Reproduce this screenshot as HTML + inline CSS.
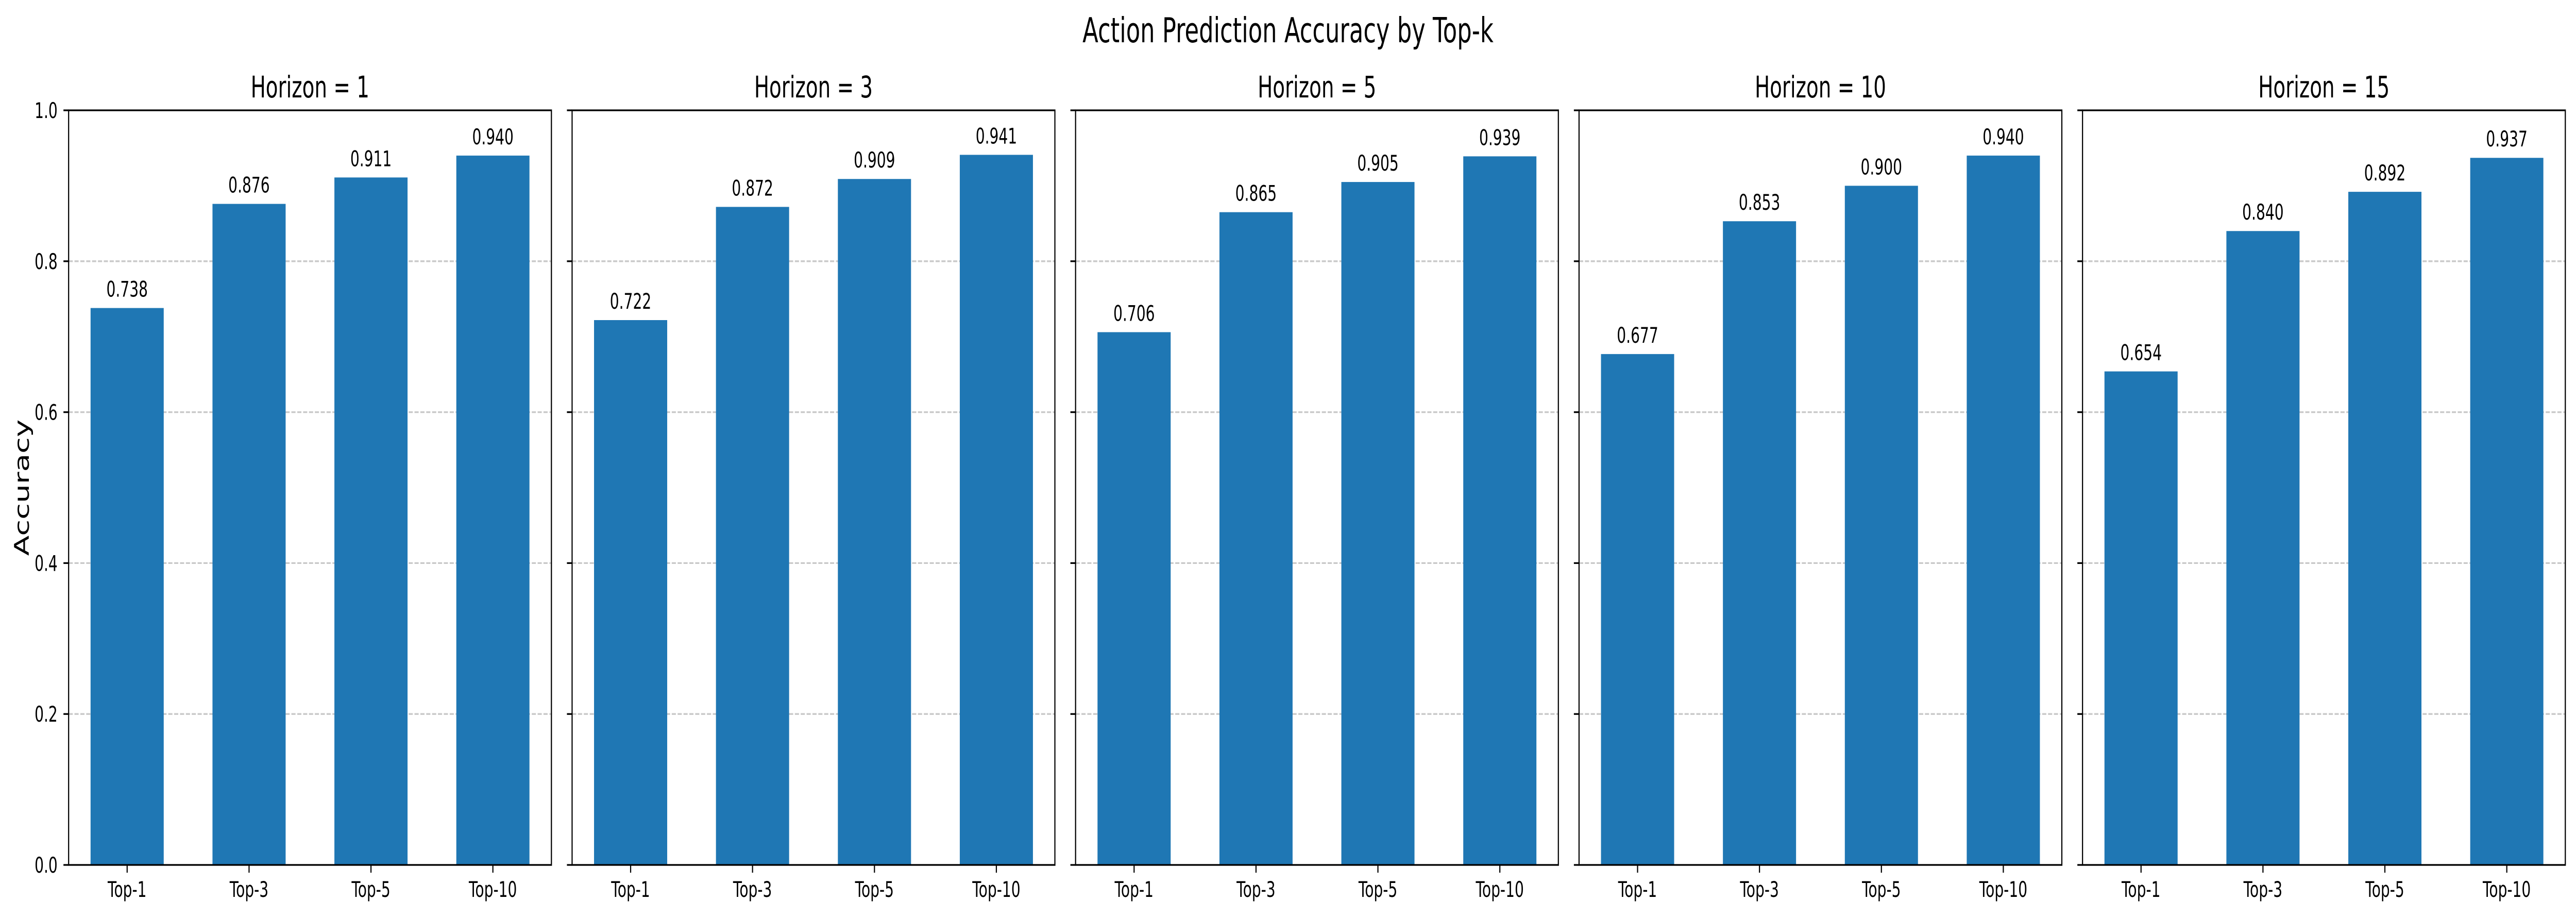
<!DOCTYPE html>
<html><head><meta charset="utf-8"><style>
html,body{margin:0;padding:0;background:#fff;width:100%;height:100%;overflow:hidden;}
svg{display:block;width:100vw;height:100vh;font-family:"DejaVu Sans","Liberation Sans",sans-serif;}
</style></head><body>
<svg id="chart" viewBox="0 0 7470 1779" preserveAspectRatio="none" xmlns="http://www.w3.org/2000/svg">
<rect width="7470" height="1779" fill="#fff"/>
<text x="3735" y="82" font-size="67" text-anchor="middle">Action Prediction Accuracy by Top-k</text>
<text transform="translate(84,946) rotate(-90)" font-size="58" text-anchor="middle">Accuracy</text>
<g id="panels"></g>
</svg>
<script>
const categories = ["Top-1","Top-3","Top-5","Top-10"];
const horizons = ["1","3","5","10","15"];
const h1 = [0.738,0.876,0.911,0.940];
const h3 = [0.722,0.872,0.909,0.941];
const h5 = [0.706,0.865,0.905,0.939];
const h10 = [0.677,0.853,0.900,0.940];
const h15 = [0.654,0.840,0.892,0.937];
const yTicks = [0,0.2,0.4,0.6,0.8,1.0];
const yTickLabels = ["0.0","0.2","0.4","0.6","0.8","1.0"];
const series = [h1,h3,h5,h10,h15];

const NS="http://www.w3.org/2000/svg";
const root=document.getElementById('panels');
const axTop=214, axBot=1678, axW=1400, gap=60, firstLeft=199;
const yScale=v=>axBot-(v/1.0)*(axBot-axTop);
function mk(tag,attrs,parent){const e=document.createElementNS(NS,tag);for(const k in attrs)e.setAttribute(k,attrs[k]);parent.appendChild(e);return e;}

series.forEach((vals,p)=>{
  const L=firstLeft+p*(axW+gap), R=L+axW;
  const xScale=c=>L+(c+0.48)/3.96*axW;
  const g=mk('g',{},root);
  
  
  yTicks.forEach((t,i)=>{
    if(t>0&&t<1){
      const gl=mk('line',{x1:L,x2:R,y1:yScale(t),y2:yScale(t),stroke:'#b0b0b0','stroke-opacity':0.7,'stroke-width':3.3,'stroke-dasharray':'12,5'},g);
      
      
    }
    const tk=mk('line',{x1:L-15,x2:L,y1:yScale(t),y2:yScale(t),stroke:'#000','stroke-width':3.3},g);
    
    
    if(p===0){
      const tl=mk('text',{x:L-32,y:yScale(t)+15,'font-size':42,'text-anchor':'end'},g);
      tl.textContent=yTickLabels[i];
      
      
    }
  });
  vals.forEach((v,c)=>{
    const cx=xScale(c), bw=0.6/3.96*axW;
    const b=mk('rect',{x:cx-bw/2,y:yScale(v),width:bw,height:axBot-yScale(v),fill:'#1f77b4'},g);
    
    
    const a=mk('text',{x:cx,y:yScale(v)-22,'font-size':42,'text-anchor':'middle'},g);
    a.textContent=v.toFixed(3);
    
    
    const xt=mk('line',{x1:cx,x2:cx,y1:axBot,y2:axBot+15,stroke:'#000','stroke-width':3.3},g);
    
    
    const xl=mk('text',{x:cx,y:axBot+62,'font-size':42,'text-anchor':'middle'},g);
    xl.textContent=categories[c];
    
    
  });
  const fr=mk('rect',{x:L,y:axTop,width:axW,height:axBot-axTop,fill:'none',stroke:'#000','stroke-width':3.3},g);
  
  
  const tt=mk('text',{x:(L+R)/2,y:189,'font-size':58,'text-anchor':'middle'},g);
  tt.textContent='Horizon = '+horizons[p];
  
  
});
</script>
</body></html>
